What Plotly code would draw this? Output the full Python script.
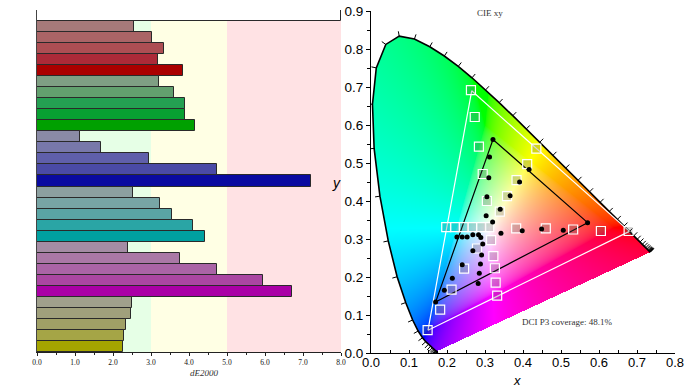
import numpy as np
import plotly.graph_objects as go
import zlib, struct, base64

W, H = 693, 390

# ---------------- Left panel: dE2000 bars ----------------
categories = ["White",
              "Red 20%", "Red 40%", "Red 60%", "Red 80%", "Red 100%",
              "Green 20%", "Green 40%", "Green 60%", "Green 80%", "Green 100%",
              "Blue 20%", "Blue 40%", "Blue 60%", "Blue 80%", "Blue 100%",
              "Cyan 20%", "Cyan 40%", "Cyan 60%", "Cyan 80%", "Cyan 100%",
              "Magenta 20%", "Magenta 40%", "Magenta 60%", "Magenta 80%", "Magenta 100%",
              "Yellow 20%", "Yellow 40%", "Yellow 60%", "Yellow 80%", "Yellow 100%"]
de2000 = [8.0,
          2.54, 3.03, 3.34, 3.18, 3.85,
          3.20, 3.60, 3.89, 3.89, 4.16,
          1.14, 1.68, 2.94, 4.74, 7.21,
          2.52, 3.23, 3.56, 4.10, 4.42,
          2.39, 3.77, 4.74, 5.94, 6.71,
          2.50, 2.47, 2.34, 2.28, 2.25]
bar_colors = ["#ffffff",
              "#a67a7a", "#aa6466", "#ad4e53", "#ac2a38", "#aa0000",
              "#7f9f84", "#62a06e", "#24a052", "#08a032", "#00a000",
              "#8a8aa6", "#7878aa", "#5f5faa", "#4a4aa6", "#0a0aa0",
              "#8ca0a0", "#78a5a5", "#5aa5a5", "#2aa5a5", "#00a0a0",
              "#a48ca4", "#aa78a6", "#aa64a6", "#aa46a2", "#aa00a6",
              "#a0a08c", "#a0a07c", "#a0a066", "#a5a546", "#a5a500"]
band_edges = [0, 3, 5, 8]
band_colors = ["#e6ffe6", "#ffffe4", "#ffe2e4"]
de_ticks = [0, 1, 2, 3, 4, 5, 6, 7, 8]

# ---------------- Right panel: CIE xy ----------------
locus_nm = list(range(380, 705, 5))
locus_x = [0.1741, 0.1740, 0.1738, 0.1736, 0.1733, 0.1730, 0.1726, 0.1721, 0.1714, 0.1703,
           0.1689, 0.1669, 0.1644, 0.1611, 0.1566, 0.1510, 0.1440, 0.1355, 0.1241, 0.1096,
           0.0913, 0.0687, 0.0454, 0.0235, 0.0082, 0.0039, 0.0139, 0.0389, 0.0743, 0.1142,
           0.1547, 0.1929, 0.2296, 0.2658, 0.3016, 0.3373, 0.3731, 0.4087, 0.4441, 0.4788,
           0.5125, 0.5448, 0.5752, 0.6029, 0.6270, 0.6482, 0.6658, 0.6801, 0.6915, 0.7006,
           0.7079, 0.7140, 0.7190, 0.7230, 0.7260, 0.7283, 0.7300, 0.7311, 0.7320, 0.7327,
           0.7334, 0.7340, 0.7344, 0.7346, 0.7347]
locus_y = [0.0050, 0.0050, 0.0049, 0.0049, 0.0048, 0.0048, 0.0048, 0.0048, 0.0051, 0.0058,
           0.0069, 0.0086, 0.0109, 0.0138, 0.0177, 0.0227, 0.0297, 0.0399, 0.0578, 0.0868,
           0.1327, 0.2007, 0.2950, 0.4127, 0.5384, 0.6548, 0.7502, 0.8120, 0.8338, 0.8262,
           0.8059, 0.7816, 0.7543, 0.7243, 0.6923, 0.6589, 0.6245, 0.5896, 0.5547, 0.5202,
           0.4866, 0.4544, 0.4242, 0.3965, 0.3725, 0.3514, 0.3340, 0.3197, 0.3083, 0.2993,
           0.2920, 0.2859, 0.2809, 0.2770, 0.2740, 0.2717, 0.2700, 0.2689, 0.2680, 0.2673,
           0.2666, 0.2660, 0.2656, 0.2654, 0.2653]

p3_x = [0.680, 0.265, 0.150]
p3_y = [0.320, 0.690, 0.060]
gamut_x = [0.570, 0.321, 0.170]
gamut_y = [0.343, 0.562, 0.134]

target_x = [0.311,
            0.382, 0.460, 0.532, 0.605, 0.678,
            0.305, 0.294, 0.284, 0.273, 0.263,
            0.279, 0.245, 0.212, 0.182, 0.149,
            0.290, 0.266, 0.244, 0.221, 0.198,
            0.316, 0.322, 0.326, 0.328, 0.332,
            0.339, 0.358, 0.383, 0.411, 0.435]
target_y = [0.331,
            0.328, 0.328, 0.325, 0.321, 0.321,
            0.400, 0.471, 0.543, 0.621, 0.692,
            0.275, 0.222, 0.167, 0.114, 0.060,
            0.331, 0.331, 0.331, 0.331, 0.331,
            0.297, 0.255, 0.223, 0.185, 0.151,
            0.372, 0.413, 0.455, 0.497, 0.538]
meas_x = [0.289,
          0.342, 0.398, 0.449, 0.506, 0.570,
          0.303, 0.305, 0.310, 0.312, 0.321,
          0.268, 0.240, 0.214, 0.193, 0.170,
          0.283, 0.268, 0.253, 0.240, 0.226,
          0.294, 0.291, 0.288, 0.285, 0.282,
          0.320, 0.340, 0.366, 0.391, 0.416]
meas_y = [0.304,
          0.315, 0.322, 0.326, 0.323, 0.343,
          0.361, 0.411, 0.461, 0.516, 0.562,
          0.269, 0.232, 0.197, 0.165, 0.134,
          0.311, 0.311, 0.305, 0.305, 0.305,
          0.287, 0.258, 0.234, 0.210, 0.183,
          0.345, 0.378, 0.414, 0.450, 0.483]

# ---------------- layout geometry ----------------
L_X = [37 / W, 341 / W]
L_Y = [38 / H, 380 / H]
R_X = [371 / W, 675 / W]
R_Y = [37 / H, 379 / H]
XR = [0, 0.8]
YR = [0, 0.9]

# ---------------- chromaticity fill image ----------------
nx, ny = 304, 342
xs = (np.arange(nx) + 0.5) * (XR[1] - XR[0]) / nx + XR[0]
ys = YR[1] - (np.arange(ny) + 0.5) * (YR[1] - YR[0]) / ny
gx, gy = np.meshgrid(xs, ys)
poly_x = np.array(locus_x + [locus_x[0]])
poly_y = np.array(locus_y + [locus_y[0]])
inside = np.zeros(gx.shape, dtype=bool)
for i in range(len(poly_x) - 1):
    x1, y1, x2, y2 = poly_x[i], poly_y[i], poly_x[i + 1], poly_y[i + 1]
    cond = ((y1 > gy) != (y2 > gy))
    with np.errstate(divide="ignore", invalid="ignore"):
        xint = (x2 - x1) * (gy - y1) / (y2 - y1 + 1e-15) + x1
    inside ^= cond & (gx < xint)
yy = np.maximum(gy, 1e-4)
Xc = gx / yy
Yc = np.ones_like(gx)
Zc = (1 - gx - gy) / yy
M = np.array([[3.2406, -1.5372, -0.4986],
              [-0.9689, 1.8758, 0.0415],
              [0.0557, -0.2040, 1.0570]])
lin = np.stack([Xc, Yc, Zc], axis=-1) @ M.T
neg = np.minimum(lin.min(axis=-1, keepdims=True), 0)
lin = lin - 0.5 * neg
lin = np.clip(lin, 0, None)
mx = lin.max(axis=-1, keepdims=True)
mx[mx == 0] = 1
lin = lin / mx
srgb = np.where(lin <= 0.0031308, 12.92 * lin, 1.055 * np.power(lin, 1 / 2.4) - 0.055)
rgba = np.zeros((ny, nx, 4), dtype=np.uint8)
rgba[..., :3] = np.clip(srgb * 255 + 0.5, 0, 255).astype(np.uint8)
rgba[..., 3] = np.where(inside, 255, 0).astype(np.uint8)


def png_uri(arr):
    h, w, _ = arr.shape
    raw = b"".join(b"\x00" + arr[r].tobytes() for r in range(h))

    def chunk(tag, data):
        return struct.pack(">I", len(data)) + tag + data + struct.pack(">I", zlib.crc32(tag + data) & 0xffffffff)

    png = (b"\x89PNG\r\n\x1a\n" + chunk(b"IHDR", struct.pack(">IIBBBBB", w, h, 8, 6, 0, 0, 0))
           + chunk(b"IDAT", zlib.compress(raw, 9)) + chunk(b"IEND", b""))
    return "data:image/png;base64," + base64.b64encode(png).decode()


# ---------------- locus tick marks ----------------
lx = np.array(locus_x)
ly = np.array(locus_y)
cx, cy = 0.33, 0.33
tick_len = 0.013
tx, ty = [], []
for i in range(len(lx)):
    a = max(i - 1, 0)
    b = min(i + 1, len(lx) - 1)
    dx, dy = lx[b] - lx[a], ly[b] - ly[a]
    nrm = np.hypot(dx, dy)
    if nrm == 0:
        continue
    nx_, ny_ = dy / nrm, -dx / nrm
    if nx_ * (lx[i] - cx) + ny_ * (ly[i] - cy) < 0:
        nx_, ny_ = -nx_, -ny_
    tx += [lx[i], lx[i] + tick_len * nx_, None]
    ty += [ly[i], ly[i] + tick_len * ny_, None]

fig = go.Figure()

# bars
fig.add_trace(go.Bar(
    x=de2000, y=categories, orientation="h",
    marker=dict(color=bar_colors, line=dict(color="#2a2a2a", width=1)),
    xaxis="x", yaxis="y", showlegend=False, hoverinfo="x+y"))

# band shapes
shapes = []
for k in range(len(band_colors)):
    shapes.append(dict(type="rect", xref="x", yref="y", layer="below",
                       x0=band_edges[k], x1=band_edges[k + 1], y0=0.5, y1=len(categories) - 0.5,
                       fillcolor=band_colors[k], line=dict(width=0)))

# locus outline and ticks
fig.add_trace(go.Scatter(x=tx, y=ty, mode="lines", line=dict(color="black", width=1),
                         xaxis="x2", yaxis="y2", showlegend=False, hoverinfo="skip"))
fig.add_trace(go.Scatter(x=locus_x, y=locus_y, mode="lines", line=dict(color="black", width=1.6),
                         xaxis="x2", yaxis="y2", showlegend=False, text=locus_nm))

# DCI-P3 triangle (white)
fig.add_trace(go.Scatter(x=p3_x + p3_x[:1], y=p3_y + p3_y[:1], mode="lines",
                         line=dict(color="white", width=1.2), xaxis="x2", yaxis="y2",
                         showlegend=False))
# measured gamut triangle (black)
fig.add_trace(go.Scatter(x=gamut_x + gamut_x[:1], y=gamut_y + gamut_y[:1], mode="lines",
                         line=dict(color="black", width=1.2), xaxis="x2", yaxis="y2",
                         showlegend=False))
# targets
fig.add_trace(go.Scatter(x=target_x, y=target_y, mode="markers",
                         marker=dict(symbol="square", size=9, color="rgba(90,90,90,0.25)",
                                     line=dict(color="white", width=1.2)),
                         xaxis="x2", yaxis="y2", showlegend=False))
# measured
fig.add_trace(go.Scatter(x=meas_x, y=meas_y, mode="markers",
                         marker=dict(symbol="circle", size=5, color="black"),
                         xaxis="x2", yaxis="y2", showlegend=False))

serif = "Liberation Serif"
sans = "Liberation Sans"

fig.update_layout(
    width=W, height=H, autosize=False,
    margin=dict(l=0, r=0, t=0, b=0, autoexpand=False),
    paper_bgcolor="white", plot_bgcolor="rgba(0,0,0,0)",
    bargap=0,
    shapes=shapes,
    images=[dict(source=png_uri(rgba), xref="x2", yref="y2", x=XR[0], y=YR[1],
                 sizex=XR[1] - XR[0], sizey=YR[1] - YR[0], xanchor="left", yanchor="top",
                 sizing="stretch", layer="below")],
    xaxis=dict(domain=L_X, range=[0, 8], anchor="y", tickvals=de_ticks, automargin=False,
               ticktext=[f"{v:.1f}" for v in de_ticks], ticks="outside", ticklen=3,
               tickcolor="#222", showline=True, linecolor="#222", linewidth=1,
               showgrid=False, zeroline=False,
               minor=dict(ticks="outside", ticklen=2, dtick=0.5, tickcolor="#222", showgrid=False),
               tickfont=dict(family=serif, size=7.5, color="#111")),
    yaxis=dict(domain=L_Y, range=[len(categories) - 0.5, -0.5], anchor="x", type="category",
               showticklabels=False, ticks="", showline=True, linecolor="#444", automargin=False,
               showgrid=False, zeroline=False),
    xaxis2=dict(domain=R_X, range=XR, anchor="y2", dtick=0.1, tickformat=".1f", automargin=False,
                ticks="inside", ticklen=3, tickcolor="black", showline=True, linecolor="black",
                linewidth=1, showgrid=False, zeroline=False, ticklabelstandoff=-3,
                minor=dict(ticks="inside", ticklen=3, dtick=0.05, tickcolor="black", showgrid=False),
                tickfont=dict(family=sans, size=13, color="black")),
    yaxis2=dict(domain=R_Y, range=YR, anchor="x2", dtick=0.1, tickformat=".1f", automargin=False,
                ticks="outside", ticklen=4, tickcolor="black", showline=True, linecolor="black",
                linewidth=1, showgrid=False, zeroline=False,
                minor=dict(ticks="outside", ticklen=3, dtick=0.05, tickcolor="black", showgrid=False),
                tickfont=dict(family=sans, size=13.5, color="black")),
    annotations=[
        dict(text="<i>dE2000</i>", xref="paper", yref="paper", x=188 / W, y=1 - 380 / H,
             showarrow=False, font=dict(family=serif, size=9, color="#333")),
        dict(text="CIE xy", xref="x2", yref="y2", x=0.313, y=0.895, showarrow=False,
             font=dict(family=serif, size=9, color="#333")),
        dict(text="DCI P3 coverage: 48.1%", xref="x2", yref="y2", x=0.516, y=0.081,
             showarrow=False, font=dict(family=serif, size=9, color="#333")),
        dict(text="<i>x</i>", xref="paper", yref="paper", x=522 / W, y=1 - 372 / H,
             yanchor="top", borderpad=0, showarrow=False,
             font=dict(family=sans, size=13, color="black")),
        dict(text="<i>y</i>", xref="paper", yref="paper", x=336 / W, y=1 - 183 / H,
             showarrow=False, font=dict(family=sans, size=14, color="black")),
    ],
)

fig.write_html("out.html", config={"displayModeBar": False},
               post_script="document.body.style.margin='0';document.body.style.padding='0';")
